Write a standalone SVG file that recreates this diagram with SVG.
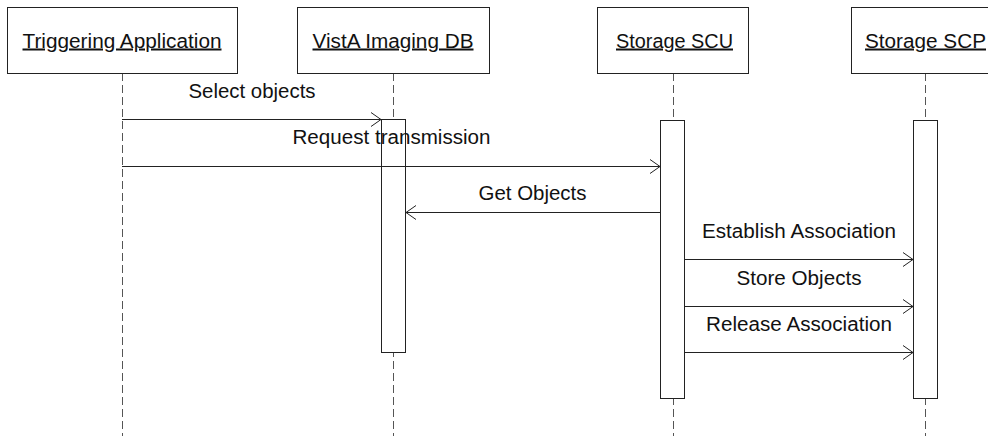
<svg xmlns="http://www.w3.org/2000/svg" width="988" height="436" viewBox="0 0 988 436">
<style>
.hdr{fill:#fff;stroke:#222;stroke-width:1}
.life{stroke:#555;stroke-width:1;stroke-dasharray:8 4;fill:none}
.act{fill:#fff;stroke:#222;stroke-width:1}
.msg{stroke:#222;stroke-width:1;fill:none}
.t{font-family:"Liberation Sans",Arial,sans-serif;font-size:20px;fill:#111;text-anchor:middle}
.u{text-decoration:underline}
</style>
<defs>
<marker id="open" viewBox="0 0 12 16" refX="11" refY="8" markerWidth="12" markerHeight="16" markerUnits="userSpaceOnUse" orient="auto">
<path d="M1,1 L11,8 L1,15" fill="none" stroke="#222" stroke-width="1"/>
</marker>
</defs>
<rect width="988" height="436" fill="#fff"/>
<g id="trig">
<line class="life" x1="122.5" y1="73" x2="122.5" y2="436"/>
<rect class="hdr" x="7.5" y="7.5" width="230" height="66"/>
<text class="t u" x="122" y="47.5" textLength="199" lengthAdjust="spacingAndGlyphs">Triggering Application</text>
</g>
<g id="vista">
<line class="life" x1="393.5" y1="73" x2="393.5" y2="436"/>
<rect class="hdr" x="297.5" y="7.5" width="192" height="66"/>
<text class="t u" x="393" y="47.5" textLength="161" lengthAdjust="spacingAndGlyphs">VistA Imaging DB</text>
<rect class="act" x="381.5" y="119.5" width="24" height="233"/>
</g>
<g id="scu">
<line class="life" x1="673.5" y1="73" x2="673.5" y2="436"/>
<rect class="hdr" x="597.5" y="7.5" width="151" height="66"/>
<text class="t u" x="674.5" y="47.5" textLength="117" lengthAdjust="spacingAndGlyphs">Storage SCU</text>
<rect class="act" x="660.5" y="120.5" width="24" height="278"/>
</g>
<g id="scp">
<line class="life" x1="925.5" y1="73" x2="925.5" y2="436"/>
<rect class="hdr" x="851.5" y="7.5" width="148" height="66"/>
<text class="t u" x="925.5" y="47.5" textLength="121" lengthAdjust="spacingAndGlyphs">Storage SCP</text>
<rect class="act" x="913.5" y="120.5" width="24" height="278"/>
</g>
<g id="connectors">
<line class="msg" x1="122" y1="119.5" x2="381" y2="119.5" marker-end="url(#open)"/>
<text class="t" x="252" y="98" textLength="127" lengthAdjust="spacingAndGlyphs">Select objects</text>
<line class="msg" x1="122" y1="166.5" x2="660" y2="166.5" marker-end="url(#open)"/>
<text class="t" x="391.5" y="144" textLength="198" lengthAdjust="spacingAndGlyphs">Request transmission</text>
<line class="msg" x1="660" y1="212.5" x2="406" y2="212.5" marker-end="url(#open)"/>
<text class="t" x="532.5" y="200" textLength="108" lengthAdjust="spacingAndGlyphs">Get Objects</text>
<line class="msg" x1="685" y1="259.5" x2="913" y2="259.5" marker-end="url(#open)"/>
<text class="t" x="799" y="238" textLength="194" lengthAdjust="spacingAndGlyphs">Establish Association</text>
<line class="msg" x1="685" y1="306.5" x2="913" y2="306.5" marker-end="url(#open)"/>
<text class="t" x="799" y="285" textLength="125" lengthAdjust="spacingAndGlyphs">Store Objects</text>
<line class="msg" x1="685" y1="352.5" x2="913" y2="352.5" marker-end="url(#open)"/>
<text class="t" x="799" y="331" textLength="186" lengthAdjust="spacingAndGlyphs">Release Association</text>
</g>
</svg>
